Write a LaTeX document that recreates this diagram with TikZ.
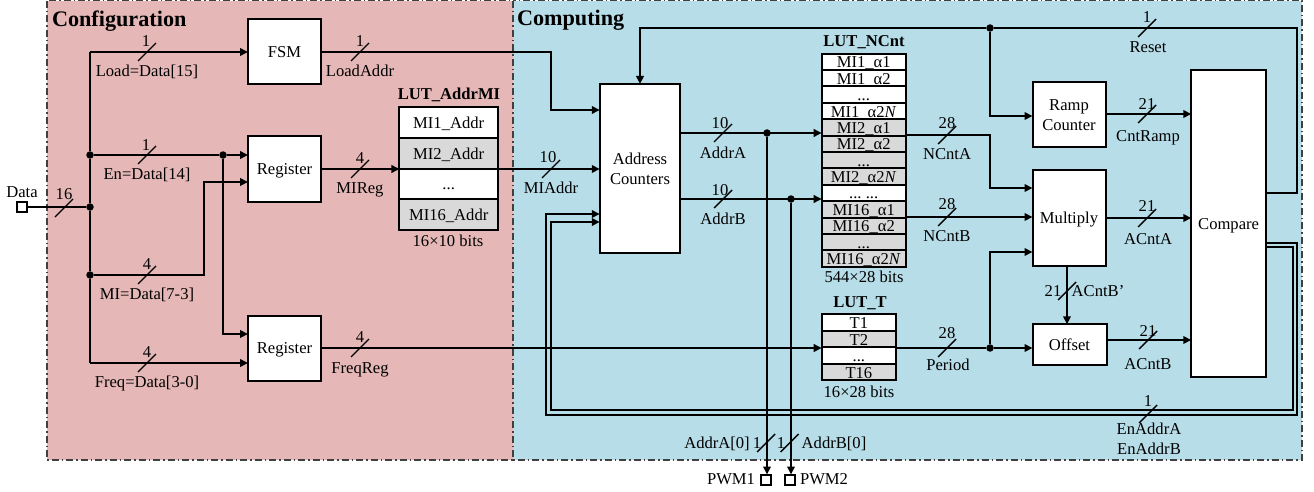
\documentclass[tikz,border=0pt]{standalone}
\usepackage{fontspec}
\setmainfont{Liberation Serif}
\usetikzlibrary{arrows.meta}
\definecolor{panelred}{HTML}{E5B8B7}
\definecolor{panelblue}{HTML}{B7DDE8}
\definecolor{cellgrey}{HTML}{D9D9D9}
\definecolor{panelline}{HTML}{404040}
\tikzset{
  every node/.style={font=\fontsize{16.6}{20}\selectfont, inner sep=0pt, outer sep=0pt},
  oneline/.style={text height=11pt, text depth=0pt},
  panel/.style={draw=panelline, line width=1.3pt, dash pattern=on 7pt off 3pt on 1.5pt off 3pt},
  blockbox/.style={draw, fill=white, line width=2pt, align=center},
  cellbox/.style={draw, line width=2pt, text height=12.5pt, text depth=0.5pt},
  wire/.style={draw, line width=2pt},
  sig/.style={wire, -{Triangle[length=8pt,width=7.5pt]}},
  slashmark/.style={draw, line width=1.4pt},
  dot/.style={circle, fill=black, minimum size=7.5pt},
  port/.style={draw, fill=white, line width=2pt, minimum size=10pt},
  txt/.style={oneline},
  titletxt/.style={oneline, font=\fontsize{16.6}{20}\selectfont\bfseries},
  paneltitle/.style={text height=14pt, text depth=0pt, font=\fontsize{22.2}{26}\selectfont\bfseries, anchor=west}
}
\newcommand{\busmark}[2]{\draw[slashmark] (#1-9,#2+9) -- (#1+9,#2-9);}
\begin{document}
\begin{tikzpicture}[x=1pt,y=-1pt]
\useasboundingbox (0,0) rectangle (1314,492);
% panels
\filldraw[panel, fill=panelred] (47,0.7) rectangle (513,460);
\filldraw[panel, fill=panelblue] (513,0.7) rectangle (1302,460);
\node[paneltitle] (tcfg) at (52,20) {Configuration};
\node[paneltitle] (tcomp) at (517,19) {Computing};

% blocks
\node[blockbox, oneline, minimum width=73pt, minimum height=65pt] (fsm) at (284.5,52) {FSM};
\node[blockbox, oneline, minimum width=73pt, minimum height=65pt] (regA) at (284.5,169) {Register};
\node[blockbox, oneline, minimum width=73pt, minimum height=65pt] (regB) at (284.5,348) {Register};
\node[blockbox, minimum width=80.5pt, minimum height=169pt] (ac) at (640,168.5) {Address\\Counters};
\node[blockbox, minimum width=73pt, minimum height=65.5pt] (ramp) at (1069,114.3) {\rule{0pt}{13pt}Ramp\\Counter};
\node[blockbox, oneline, minimum width=73pt, minimum height=96pt] (mul) at (1069,218) {Multiply};
\node[blockbox, oneline, minimum width=74pt, minimum height=40.4pt] (off) at (1069.5,344.5) {Offset};
\node[blockbox, oneline, minimum width=74.7pt, minimum height=307pt] (cmp) at (1228.6,223.5) {Compare};

% LUT_AddrMI
\foreach \n/\t/\c in {1/{MI1\_Addr}/white,2/{MI2\_Addr}/cellgrey,3/{...}/white,4/{MI16\_Addr}/cellgrey}{
  \node[cellbox, fill=\c, minimum width=98.5pt, minimum height=30.75pt] (am\n) at (448.7,122.4+30.75*\n-30.75) {\t};
}
% LUT_NCnt
\foreach \n/\t/\c in {1/{MI1\_α1}/white,2/{MI1\_α2}/white,3/{...}/white,4/{MI1\_α2\textit{N}}/white,
  5/{MI2\_α1}/cellgrey,6/{MI2\_α2}/cellgrey,7/{...}/cellgrey,8/{MI2\_α2\textit{N}}/cellgrey,
  9/{...\ ...}/white,
  10/{MI16\_α1}/cellgrey,11/{MI16\_α2}/cellgrey,12/{...}/cellgrey,13/{MI16\_α2\textit{N}}/cellgrey}{
  \node[cellbox, fill=\c, minimum width=84pt, minimum height=16.385pt] (ln\n) at (863.7,61.9+16.385*\n-16.385) {\t};
}
% LUT_T
\foreach \n/\t/\c in {1/{T1}/white,2/{T2}/cellgrey,3/{...}/white,4/{T16}/cellgrey}{
  \node[cellbox, fill=\c, minimum width=74.3pt, minimum height=16.5pt] (lt\n) at (858.9,322.6+16.5*\n-16.5) {\t};
}

% ports
\node[port] (pdata) at (21.5,207) {};
\node[port] (ppa) at (766,479.5) {};
\node[port] (ppb) at (790,479.5) {};

% junctions and bends
\node[dot] (jd) at (90,207) {};
\node[dot] (jen) at (90,155) {};
\node[dot] (jmi) at (90,275) {};
\node[dot] (jreg) at (223,155) {};
\node[dot] (jaa) at (767,133) {};
\node[dot] (jab) at (791,199) {};
\node[dot] (jrst) at (990,28) {};
\node[dot] (jper) at (990,348) {};
\coordinate (tload) at (90,52);
\coordinate (tfreq) at (90,363);
\coordinate (inAa) at (821.7,133);
\coordinate (inAb) at (821.7,199);
\coordinate (inFreq) at (821.7,348);
\coordinate (outNa) at (905.7,135);
\coordinate (outNb) at (905.7,217);

% configuration wires
\draw[wire] (pdata) -- (jd);
\draw[wire] (jd) -- (jen);
\draw[wire] (jen) -- (tload);
\draw[wire] (jd) -- (jmi);
\draw[wire] (jmi) -- (tfreq);
\draw[sig] (tload) -- (fsm.west);
\draw[wire] (jen) -- (jreg);
\draw[sig] (jreg) -- (regA.west |- jreg);
\draw[sig] (jmi) -- (204,275) -- (204,182) -- (regA.west |- 0,182);
\draw[sig] (jreg) |- (regB.west |- 0,334);
\draw[sig] (tfreq) -- (regB.west |- tfreq);
\draw[sig] (fsm.east) -- (551,52) -- (551,110) -- (ac.west |- 0,110);
\draw[sig] (regA.east) -- (am3.west |- regA.east);
\draw[sig] (am3.east |- regA.east) -- (ac.west |- regA.east);
\draw[sig] (regB.east) -- (inFreq);

% computing wires
\draw[sig] (cmp.east |- 0,193) -- (1297,193) -- (1297,28) -- (jrst) -- (640,28) -- (ac.north);
\draw[sig] (jrst) |- (ramp.west |- 0,116);
\draw[sig] (ramp.east |- 0,114) -- (cmp.west |- 0,114);
\draw[sig] (outNa) -- (990,135) -- (990,188) -- (mul.west |- 0,188);
\draw[sig] (outNb) -- (mul.west |- outNb);
\draw[sig] (jper) -- (990,252) -- (mul.west |- 0,252);
\draw[sig] (mul.south -| 1067,0) -- (off.north -| 1067,0);
\draw[sig] (mul.east |- 0,218) -- (cmp.west |- 0,218);
\draw[sig] (jper) -- (off.west |- jper);
\draw[wire] (lt3.east |- jper) -- (jper);
\draw[sig] (off.east |- 0,340) -- (cmp.west |- 0,340);
\draw[sig] (ac.east |- inAa) -- (inAa);
\draw[sig] (ac.east |- inAb) -- (inAb);
\draw[sig] (jaa) -- (ppa.north -| jaa);
\draw[sig] (jab) -- (ppb.north -| jab);
\draw[sig] (cmp.east |- 0,243) -- (1297,243) -- (1297,415) -- (546,415) -- (546,214) -- (ac.west |- 0,214);
\draw[sig] (cmp.east |- 0,247) -- (1293,247) -- (1293,410) -- (551,410) -- (551,222) -- (ac.west |- 0,222);

% bus marks
\busmark{64}{208}
\busmark{147}{52}
\busmark{147}{155}
\busmark{147}{275}
\busmark{147}{363}
\busmark{360}{52}
\busmark{360}{169}
\busmark{360}{348}
\busmark{551}{169}
\busmark{723}{133}
\busmark{723}{199}
\busmark{947}{135}
\busmark{947}{217}
\busmark{947}{348}
\busmark{1147}{28}
\busmark{1147}{114}
\busmark{1147}{218}
\busmark{1148}{340}
\busmark{1148}{414}
\busmark{1067}{291}
\busmark{766}{443}
\busmark{789.5}{443}

% labels
\node[txt] (ldata) at (22,192) {Data};
\node[txt] (n16) at (64,194) {16};
\node[txt] (nload) at (146,41) {1};
\node[txt] (lload) at (147,71) {Load=Data[15]};
\node[txt] (nen) at (146,145) {1};
\node[txt] (len) at (147,174) {En=Data[14]};
\node[txt] (nmi) at (147,264) {4};
\node[txt] (lmi) at (147,294) {MI=Data[7-3]};
\node[txt] (nfreq) at (147,352) {4};
\node[txt] (lfreq) at (147,382) {Freq=Data[3-0]};
\node[txt] (nla) at (360,41) {1};
\node[txt] (lla) at (360,71) {LoadAddr};
\node[txt] (nmr) at (360,158) {4};
\node[txt] (lmr) at (360,188) {MIReg};
\node[txt] (nfr) at (360,337) {4};
\node[txt] (lfr) at (360,368) {FreqReg};
\node[txt] (nma) at (548,157) {10};
\node[txt] (lma) at (551,188) {MIAddr};
\node[txt] (naa) at (720,123) {10};
\node[txt] (laa) at (723,153) {AddrA};
\node[txt] (nab) at (720,190) {10};
\node[txt] (lab) at (723,219) {AddrB};
\node[txt] (nna) at (947,123) {28};
\node[txt] (lna) at (947,154) {NCntA};
\node[txt] (nnb) at (947,204) {28};
\node[txt] (lnb) at (947,236) {NCntB};
\node[txt] (nper) at (947,333) {28};
\node[txt] (lper) at (948,365) {Period};
\node[txt] (nrst) at (1147,17) {1};
\node[txt] (lrst) at (1148,47) {Reset};
\node[txt] (ncr) at (1147,104) {21};
\node[txt] (lcr) at (1148,136) {CntRamp};
\node[txt] (nca) at (1147,206) {21};
\node[txt] (lca) at (1148,239) {ACntA};
\node[txt] (ncb) at (1148,331) {21};
\node[txt] (lcb) at (1148,364) {ACntB};
\node[txt] (ncbp) at (1053,291) {21};
\node[txt] (lcbp) at (1098,291) {ACntB’};
\node[txt] (nen2) at (1148,401) {1};
\node[txt] (len2) at (1149,429) {EnAddrA};
\node[txt] (len3) at (1149,449) {EnAddrB};
\node[txt] (la0) at (717,443) {AddrA[0]};
\node[txt] (na0) at (757,443) {1};
\node[txt] (nb0) at (781,443) {1};
\node[txt] (lb0) at (834,443) {AddrB[0]};
\node[txt] (lp1) at (731,479) {PWM1};
\node[txt] (lp2) at (824,479) {PWM2};
\node[titletxt] (tam) at (449,94) {LUT\_AddrMI};
\node[txt] (sam) at (448,241) {16×10 bits};
\node[titletxt] (tln) at (864,41) {LUT\_NCnt};
\node[txt] (sln) at (864,277) {544×28 bits};
\node[titletxt] (tlt) at (860,302) {LUT\_T};
\node[txt] (slt) at (859,392) {16×28 bits};
\end{tikzpicture}
\end{document}
